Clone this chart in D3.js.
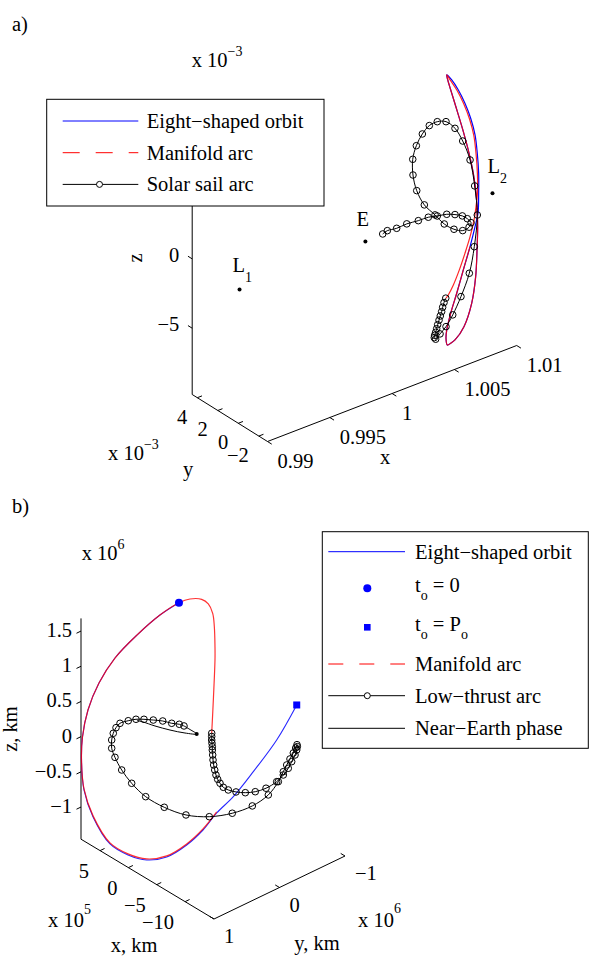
<!DOCTYPE html>
<html><head><meta charset="utf-8">
<script src="https://cdn.jsdelivr.net/npm/d3@7"></script>
<style>
body{margin:0;background:#fff}
svg, svg text, svg tspan{font-family:'Liberation Serif','Times New Roman',Times,'DejaVu Serif',serif !important}
text{fill:#000}
</style></head>
<body><svg id="chart" width="591" height="958" font-family="Liberation Serif, Times New Roman, DejaVu Serif, serif"></svg>
<script>
// ================= DATA =================
// ---- Panel a (normalised units; curves read in the y = 0 plane; y, z in 10^-3) ----
const aTicksX = [0.99, 0.995, 1, 1.005, 1.01];
const aTicksY = [-2, 0, 2, 4];
const aTicksZ = [-5, 0];
const aTickLabelsX = ["0.99", "0.995", "1", "1.005", "1.01"];

const aEightX = [1.00673,1.00713,1.00766,1.00819,1.00865,1.00900,1.00918,1.00929,1.00929,1.00924,1.00900,1.00860,1.00806,1.00753,1.00705,1.00673,1.00667,1.00677,1.00705,1.00739,1.00811,1.00873,1.00905,1.00916,1.00921,1.00918,1.00908,1.00886,1.00852,1.00806,1.00758,1.00713,1.00681];
const aEightZ = [9.55,9.05,8.14,7.00,5.76,4.44,3.05,1.57,0.13,-1.29,-2.18,-3.48,-4.97,-6.47,-7.74,-8.84,-9.42,-9.94,-9.91,-9.79,-9.08,-7.61,-5.80,-3.91,-2.25,-1.27,0.20,1.72,3.28,5.00,6.61,8.09,9.16];

const aManifoldX = [1.00860,1.00806,1.00753,1.00705,1.00673,1.00667,1.00677,1.00705,1.00739,1.00811,1.00873,1.00905,1.00916,1.00921,1.00918,1.00908,1.00886,1.00852,1.00806,1.00758,1.00713,1.00681,1.00673,1.00703,1.00756,1.00809,1.00855,1.00890,1.00908,1.00919,1.00919,1.00908,1.00892,1.00860,1.00819,1.00774,1.00726,1.00685,1.00667];
const aManifoldZ = [-3.48,-4.97,-6.47,-7.74,-8.84,-9.42,-9.94,-9.91,-9.79,-9.08,-7.61,-5.80,-3.91,-2.25,-1.27,0.20,1.72,3.28,5.00,6.61,8.09,9.16,9.55,9.05,8.14,7.00,5.76,4.44,3.05,1.57,0.13,-0.76,-1.66,-2.76,-3.82,-4.86,-5.78,-6.36,-6.53];

const aSailX = [1.00665,1.00651,1.00640,1.00632,1.00621,1.00611,1.00600,1.00592,1.00584,1.00576,1.00573,1.00584,1.00619,1.00667,1.00721,1.00787,1.00854,1.00894,1.00918,1.00897,1.00860,1.00801,1.00739,1.00667,1.00597,1.00533,1.00477,1.00429,1.00400,1.00402,1.00432,1.00493,1.00579,1.00653,1.00731,1.00801,1.00852,1.00868,1.00838,1.00798,1.00739,1.00673,1.00597,1.00525,1.00445,1.00352,1.00271,1.00196,1.00159];
const aSailZ = [-6.52,-6.79,-7.09,-7.38,-7.65,-7.92,-8.21,-8.47,-8.70,-8.89,-9.05,-9.20,-8.94,-8.58,-7.92,-6.83,-5.38,-3.60,-1.40,0.77,2.77,4.34,5.47,6.20,6.44,6.38,5.97,5.29,4.41,3.27,2.04,0.80,-0.22,-1.13,-1.78,-2.12,-2.05,-1.78,-1.39,-1.05,-0.75,-0.50,-0.36,-0.20,-0.17,-0.08,-0.12,-0.03,-0.14];

const aPointNames = ["L", "E", "L"];
const aPointSubs = ["1", "", "2"];
const aPointX = [0.9901, 1.0002, 1.0104];
const aPointZ = [-0.16, -0.20, -0.26];

// ---- Panel b (km; curves read in the x = 0 plane; x in 10^5, y, z in 10^6) ----
const bTicksX = [-10, -5, 0, 5];
const bTicksY = [1, 0, -1];
const bTicksZ = [-1, -0.5, 0, 0.5, 1, 1.5];

const bEightY = [0.228,0.518,0.869,1.205,1.449,1.617,1.701,1.716,1.678,1.541,1.281,1.006,0.721,0.415,0.110,-0.139,-0.348,-0.602,-0.907,-1.264,-1.570];
const bEightZ = [1.961,1.916,1.789,1.613,1.367,1.059,0.713,0.393,-0.050,-0.491,-0.995,-1.274,-1.473,-1.567,-1.533,-1.432,-1.284,-1.165,-0.947,-0.657,-0.296];

const bManifoldY = [-0.348,-0.139,0.110,0.415,0.721,1.006,1.281,1.541,1.678,1.716,1.701,1.617,1.449,1.205,0.869,0.518,0.228,0.060,-0.119,-0.220,-0.287,-0.312,-0.322,-0.322,-0.299,-0.272];
const bManifoldZ = [-1.269,-1.417,-1.518,-1.552,-1.458,-1.259,-0.980,-0.476,-0.035,0.393,0.713,1.059,1.367,1.613,1.789,1.916,1.961,1.939,1.854,1.743,1.580,1.379,1.090,0.901,0.386,-0.117];

const bThrustY = [-0.272,-0.272,-0.272,-0.276,-0.281,-0.281,-0.287,-0.292,-0.302,-0.318,-0.337,-0.363,-0.399,-0.449,-0.525,-0.643,-0.785,-0.937,-1.101,-1.264,-1.365,-1.441,-1.493,-1.544,-1.570,-1.579,-1.574,-1.554,-1.518,-1.467,-1.417,-1.365,-1.289,-1.136,-0.892,-0.586,-0.235,0.121,0.452,0.736,0.950,1.102,1.205,1.255,1.255,1.231,1.189,1.128,1.002,0.884,0.762,0.620,0.476,0.339,0.223,0.151];
const bThrustZ = [-0.117,-0.163,-0.213,-0.261,-0.312,-0.359,-0.432,-0.506,-0.581,-0.659,-0.739,-0.812,-0.884,-0.964,-1.036,-1.117,-1.191,-1.245,-1.269,-1.249,-1.199,-1.138,-1.067,-0.995,-0.935,-0.892,-0.862,-0.900,-0.955,-1.017,-1.080,-1.152,-1.260,-1.380,-1.427,-1.394,-1.286,-1.102,-0.845,-0.567,-0.281,-0.024,0.202,0.353,0.471,0.555,0.616,0.651,0.631,0.599,0.544,0.470,0.392,0.298,0.232,0.176];

const bNearY = [0.151,0.060,-0.043,0.136,0.365,0.594,0.777,0.869];
const bNearZ = [0.176,0.085,-0.025,0.069,0.214,0.374,0.513,0.575];
const bEarth = [-0.043, -0.025];

// ================= DRAWING =================
const FONT = "'Liberation Serif','Times New Roman','DejaVu Serif',serif";
const FS = 20.5, FS_SMALL = 14;
const svg = d3.select("#chart");
const BLUE = "#0000ff", RED = "#ff0000";

function projector(c) {
  const sx = d3.scaleLinear().domain(c.xDom).range([0, 1]);
  const sy = d3.scaleLinear().domain(c.yDom).range([0, 1]);
  const sz = d3.scaleLinear().domain(c.zDom).range([0, 1]);
  return (x, y, z) => {
    const a = sx(x), b = sy(y), d = sz(z);
    return [c.o[0] + a * c.ex[0] + b * c.ey[0] + d * c.ez[0],
            c.o[1] + a * c.ex[1] + b * c.ey[1] + d * c.ez[1]];
  };
}
function unit(v, s) { const n = Math.hypot(v[0], v[1]); return [v[0] / n * s, v[1] / n * s]; }

function txt(g, x, y, s, anchor) {
  return g.append("text").attr("x", x).attr("y", y).attr("text-anchor", anchor || "start")
    .attr("font-family", FONT).attr("font-size", FS).text(s);
}
function rich(g, x, y, parts, opt = {}) {
  const t = g.append("text").attr("x", x).attr("y", y).attr("text-anchor", opt.anchor || "start")
    .attr("font-family", FONT).attr("font-size", FS);
  let shift = 0;
  parts.forEach(([s, kind]) => {
    const target = kind === "sup" ? (opt.sup || -11) : kind === "sub" ? (opt.sub || 8) : 0;
    t.append("tspan").attr("dy", target - shift).attr("font-size", kind ? FS_SMALL : FS).text(s);
    shift = target;
  });
  return t;
}
const fmt = v => String(v).replace("-", "\u2212");
const curve = d3.line().x(d => d[0]).y(d => d[1]).curve(d3.curveCatmullRom.alpha(0.5));
const curveClosed = d3.line().x(d => d[0]).y(d => d[1]).curve(d3.curveCatmullRomClosed.alpha(0.5));

function drawAxes(g, P, c, T) {
  const [x0, x1] = c.xDom, [yFront, yBack] = c.yDom, [z0, z1] = c.zDom;
  const axis = (p, q) => g.append("line").attr("x1", p[0]).attr("y1", p[1]).attr("x2", q[0]).attr("y2", q[1])
    .attr("stroke", "#000").attr("stroke-width", 1);
  axis(P(x0, yFront, z0), P(x1, yFront, z0));
  axis(P(x0, yFront, z0), P(x0, yBack, z0));
  const zx = c.zAxisX, zy = c.zAxisY;
  axis(P(zx, zy, z0), P(zx, zy, z1));
  const yDir = [c.ey[0] / (c.yDom[1] - c.yDom[0]), c.ey[1] / (c.yDom[1] - c.yDom[0])];
  const xDir = [c.ex[0] / (c.xDom[1] - c.xDom[0]), c.ex[1] / (c.xDom[1] - c.xDom[0])];
  const tx = unit([-yDir[0], -yDir[1]], 5), ty = unit(xDir, 5), tz = unit(yDir, 5);
  T.x.forEach((v, i) => {
    const p = P(v, yFront, z0);
    axis(p, [p[0] + tx[0], p[1] + tx[1]]);
    txt(g, p[0] + c.xLab[0], p[1] + c.xLab[1], T.xl ? T.xl[i] : fmt(v), c.xLab[2]);
  });
  T.y.forEach(v => {
    const p = P(x0, v, z0);
    axis(p, [p[0] + ty[0], p[1] + ty[1]]);
    txt(g, p[0] + c.yLab[0], p[1] + c.yLab[1], fmt(v), c.yLab[2]);
  });
  T.z.forEach(v => {
    const p = P(zx, zy, v);
    axis(p, [p[0] + tz[0], p[1] + tz[1]]);
    txt(g, p[0] + c.zLab[0], p[1] + c.zLab[1], fmt(v), "end");
  });
}

// ---------- Panel a ----------
const cfgA = {
  o: [267.5, 441.5],
  xDom: [0.99, 1.01], ex: [249.2, -96],
  yDom: [-2.85, 4.5], ey: [-75.3, -47.0],
  zDom: [-9.78, 10], ez: [0, -274.3],
  zAxisX: 0.99, zAxisY: 4.5,
  xLab: [10, 26, "start"], yLab: [-10, 26, "end"], zLab: [-13, 3]
};
const PA = projector(cfgA);
const gA = svg.append("g");
txt(gA, 12, 31, "a)");
drawAxes(gA, PA, cfgA, { x: aTicksX, xl: aTickLabelsX, y: aTicksY, z: aTicksZ });
rich(gA, 191.7, 66.7, [["x 10"], ["\u22123", "sup"]]);
rich(gA, 108, 460, [["x 10"], ["\u22123", "sup"]]);
txt(gA, 385, 464, "x", "middle");
txt(gA, 188, 476, "y", "middle");
txt(gA, 142, 258, "z", "middle").attr("transform", "rotate(-90,142,258)");

const aEight = aEightX.map((x, i) => PA(x, 0, aEightZ[i]));
const aMan = aManifoldX.map((x, i) => PA(x, 0, aManifoldZ[i]));
const aSail = aSailX.map((x, i) => PA(x, 0, aSailZ[i]));
gA.append("path").attr("d", curveClosed(aEight)).attr("fill", "none").attr("stroke", BLUE).attr("stroke-width", 1.2);
gA.append("path").attr("d", curve(aMan)).attr("fill", "none").attr("stroke", RED).attr("stroke-width", 1.2).attr("stroke-opacity", 0.85);
gA.append("path").attr("d", curve(aSail)).attr("fill", "none").attr("stroke", "#000").attr("stroke-width", 1);
gA.selectAll("circle.sa").data(aSail).join("circle").attr("class", "sa")
  .attr("cx", d => d[0]).attr("cy", d => d[1]).attr("r", 3.3)
  .attr("fill", "none").attr("stroke", "#000").attr("stroke-width", 1);
const labOff = [[-7, -17], [-9, -15], [-5, -20]];
aPointX.forEach((x, i) => {
  const p = PA(x, 0, aPointZ[i]);
  gA.append("circle").attr("cx", p[0]).attr("cy", p[1]).attr("r", 2).attr("fill", "#000");
  const parts = [[aPointNames[i]]];
  if (aPointSubs[i]) parts.push([aPointSubs[i], "sub"]);
  rich(gA, p[0] + labOff[i][0], p[1] + labOff[i][1], parts, { sub: 10 });
});
// legend a
const lgA = gA.append("g");
lgA.append("rect").attr("x", 46.7).attr("y", 99.3).attr("width", 277.3).attr("height", 106.7)
  .attr("fill", "#fff").attr("stroke", "#000").attr("stroke-width", 1);
const legA = [
  { label: "Eight\u2212shaped orbit", color: BLUE, dash: null, marker: false },
  { label: "Manifold arc", color: RED, dash: "17,16", marker: false },
  { label: "Solar sail arc", color: "#000", dash: null, marker: true }
];
legA.forEach((d, i) => {
  const y = 121 + i * 31.7;
  lgA.append("line").attr("x1", 62.7).attr("x2", 138.3).attr("y1", y).attr("y2", y)
    .attr("stroke", d.color).attr("stroke-width", 1).attr("stroke-dasharray", d.dash);
  if (d.marker) lgA.append("circle").attr("cx", 99.5).attr("cy", y).attr("r", 3).attr("fill", "#fff").attr("stroke", "#000");
  txt(lgA, 146.7, y + 7, d.label);
});

// ---------- Panel b ----------
const cfgB = {
  o: [214, 919],
  xDom: [-15.1, 8.36], ex: [-133.0, -79.8],
  yDom: [1, -1], ey: [131, -63],
  zDom: [-1.457, 1.68], ez: [0, -220.8],
  zAxisX: 8.36, zAxisY: 1,
  xLab: [-11, 27, "end"], yLab: [10, 24, "start"], zLab: [-9, 6]
};
const PB = projector(cfgB);
const gB = svg.append("g");
txt(gB, 12, 513, "b)");
drawAxes(gB, PB, cfgB, { x: bTicksX, y: bTicksY, z: bTicksZ });
rich(gB, 81.7, 560, [["x 10"], ["6", "sup"]]);
rich(gB, 358, 927, [["x 10"], ["6", "sup"]], { sup: -14 });
rich(gB, 48, 927, [["x 10"], ["5", "sup"]], { sup: -13 });
txt(gB, 134, 952, "x, km", "middle");
txt(gB, 317, 950, "y, km", "middle");
txt(gB, 17, 729, "z, km", "middle").attr("transform", "rotate(-90,17,729)");

const bEight = bEightY.map((y, i) => PB(0, y, bEightZ[i]));
const bMan = bManifoldY.map((y, i) => PB(0, y, bManifoldZ[i]));
const bThr = bThrustY.map((y, i) => PB(0, y, bThrustZ[i]));
const bNear = bNearY.map((y, i) => PB(0, y, bNearZ[i]));
gB.append("path").attr("d", curve(bEight)).attr("fill", "none").attr("stroke", BLUE).attr("stroke-width", 1.1).attr("stroke-opacity", 0.85);
gB.append("path").attr("d", curve(bMan)).attr("fill", "none").attr("stroke", RED).attr("stroke-width", 1.2).attr("stroke-opacity", 0.8);
gB.append("path").attr("d", curve(bNear)).attr("fill", "none").attr("stroke", "#000").attr("stroke-width", 1);
gB.append("path").attr("d", curve(bThr)).attr("fill", "none").attr("stroke", "#000").attr("stroke-width", 1);
gB.selectAll("circle.lt").data(bThr).join("circle").attr("class", "lt")
  .attr("cx", d => d[0]).attr("cy", d => d[1]).attr("r", 3.3)
  .attr("fill", "none").attr("stroke", "#000").attr("stroke-width", 1);
const pe = PB(0, bEarth[0], bEarth[1]);
gB.append("circle").attr("cx", pe[0]).attr("cy", pe[1]).attr("r", 2).attr("fill", "#000");
const p0 = bEight[0], pP = bEight[bEight.length - 1];
gB.append("circle").attr("cx", p0[0]).attr("cy", p0[1]).attr("r", 4).attr("fill", BLUE);
gB.append("rect").attr("x", pP[0] - 3.5).attr("y", pP[1] - 3.5).attr("width", 7).attr("height", 7).attr("fill", BLUE);

// legend b
const lgB = gB.append("g");
lgB.append("rect").attr("x", 322.3).attr("y", 531.7).attr("width", 266).attr("height", 216.6)
  .attr("fill", "#fff").attr("stroke", "#000").attr("stroke-width", 1);
const legB = [
  { y: 551.7, kind: "line", color: BLUE, parts: [["Eight\u2212shaped orbit"]] },
  { y: 588.3, kind: "dot", color: BLUE, parts: [["t"], ["o", "sub"], [" = 0"]] },
  { y: 627.3, kind: "square", color: BLUE, parts: [["t"], ["o", "sub"], [" = P"], ["o", "sub"]] },
  { y: 664, kind: "dash", color: RED, parts: [["Manifold arc"]] },
  { y: 695.7, kind: "marker", color: "#000", parts: [["Low\u2212thrust arc"]] },
  { y: 728.3, kind: "line", color: "#000", parts: [["Near\u2212Earth phase"]] }
];
legB.forEach(d => {
  if (d.kind === "line" || d.kind === "dash" || d.kind === "marker")
    lgB.append("line").attr("x1", 328.3).attr("x2", 405).attr("y1", d.y).attr("y2", d.y)
      .attr("stroke", d.color).attr("stroke-width", 1).attr("stroke-dasharray", d.kind === "dash" ? "15,16" : null);
  if (d.kind === "marker") lgB.append("circle").attr("cx", 367.3).attr("cy", d.y).attr("r", 3).attr("fill", "#fff").attr("stroke", "#000");
  if (d.kind === "dot") lgB.append("circle").attr("cx", 367.3).attr("cy", d.y).attr("r", 4).attr("fill", d.color);
  if (d.kind === "square") lgB.append("rect").attr("x", 364).attr("y", d.y - 3.3).attr("width", 6.6).attr("height", 6.6).attr("fill", d.color);
  const base = (d.kind === "dot" || d.kind === "square") ? d.y + 4 : d.y + 7;
  rich(lgB, 415, base, d.parts, { sub: 8 });
});
</script></body></html>
